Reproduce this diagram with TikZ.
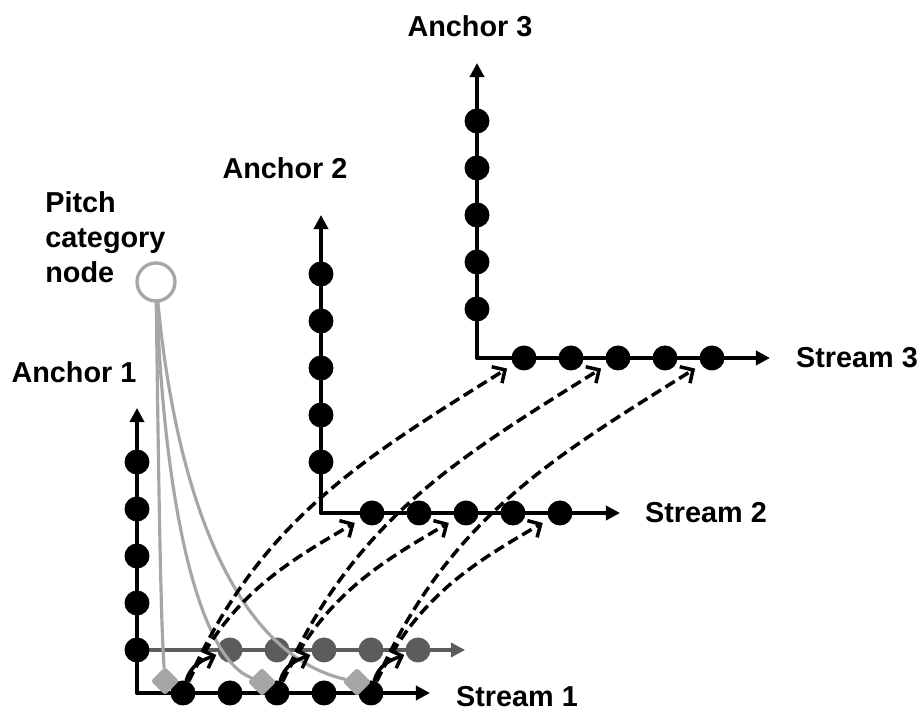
\documentclass[tikz,border=0pt]{standalone}
\usepackage{fontspec}
\setmainfont{Liberation Sans}
\usetikzlibrary{arrows.meta}
\definecolor{lightgrey}{rgb}{0.65,0.65,0.65}
\definecolor{darkgrey}{rgb}{0.36,0.36,0.36}

\begin{document}
\begin{tikzpicture}[line cap=round,line join=round,x=0.02cm,y=0.02cm,
  axis/.style={line width=2.1pt,-{Triangle[length=8pt,width=8pt]}},
  greyaxis/.style={axis,line width=1.8pt,color=darkgrey},
  dot/.style={circle,fill=black,inner sep=0pt,minimum size=0.5cm},
  greydot/.style={dot,fill=darkgrey},
  link/.style={line width=2pt,line cap=butt,dash pattern=on 6.2pt off 3pt,-{Straight Barb[length=5.5pt,width=11pt]},shorten >=4pt},
  jump/.style={line width=2pt,-{Straight Barb[length=5.5pt,width=11pt]},shorten >=1pt},
  pitchline/.style={line width=1.8pt,color=lightgrey},
  marker/.style={rectangle,fill=lightgrey,inner sep=0pt,minimum size=0.4cm,rotate=45,rounded corners=1.5pt},
  lab/.style={font=\bfseries\fontsize{16.4}{20}\selectfont,inner sep=0pt}]
\useasboundingbox (0,0) rectangle (924,713);

\coordinate (o1) at (137,20);
\coordinate (a1) at (137,305);
\coordinate (e1) at (430,20);
\coordinate (o2) at (321,200);
\coordinate (a2) at (321,498);
\coordinate (e2) at (620,200);
\coordinate (o3) at (477,355);
\coordinate (a3) at (477,650);
\coordinate (e3) at (770,355);
\coordinate (g0) at (137,63);
\coordinate (ge) at (465,63);

\draw[greyaxis] (g0) -- (ge);
\draw[axis] (o1) -- (a1);
\draw[axis] (o1) -- (e1);
\draw[axis] (o2) -- (a2);
\draw[axis] (o2) -- (e2);
\draw[axis] (o3) -- (a3);
\draw[axis] (o3) -- (e3);

\foreach \i in {1,...,5}
{
\node[dot] (a1-\i) at (137,16+47*\i) {};
\node[dot] (s1-\i) at (136+47*\i,20) {};
\node[greydot] (g-\i) at (183+47*\i,63) {};
\node[dot] (a2-\i) at (321,204+47*\i) {};
\node[dot] (s2-\i) at (325+47*\i,200) {};
\node[dot] (a3-\i) at (477,357+47*\i) {};
\node[dot] (s3-\i) at (477+47*\i,355) {};
}

\node[circle,draw=lightgrey,line width=1.9pt,minimum size=0.76cm,inner sep=0pt] (pitch) at (156,431) {};
\node[marker] (m-1) at (165,32) {};
\node[marker] (m-3) at (262,31) {};
\node[marker] (m-5) at (357,31) {};

\draw[pitchline] (pitch) .. controls (159,200) and (161,90) .. (m-1);
\draw[pitchline] (pitch) .. controls (165,200) and (200,55) .. (m-3);
\draw[pitchline] (pitch) .. controls (175,230) and (230,60) .. (m-5);

\foreach \i in {1,3,5}
{
\draw[link] (s1-\i) to[out=64,in=210] (s2-\i);
\draw[link] (s1-\i) to[out=66,in=212] (s3-\i);
\draw[jump] (s1-\i) to[out=75,in=200] (g-\i);
}

\node[lab] (l-a1) at (74,341) {Anchor 1};
\node[lab] (l-a2) at (285,545) {Anchor 2};
\node[lab] (l-a3) at (470,687) {Anchor 3};
\node[lab] (l-s1) at (517,16) {Stream 1};
\node[lab] (l-s2) at (706,200) {Stream 2};
\node[lab] (l-s3) at (857,355) {Stream 3};
\node[lab,align=left,anchor=west] (l-p) at (45,476) {Pitch\\category\\node};
\end{tikzpicture}
\end{document}
